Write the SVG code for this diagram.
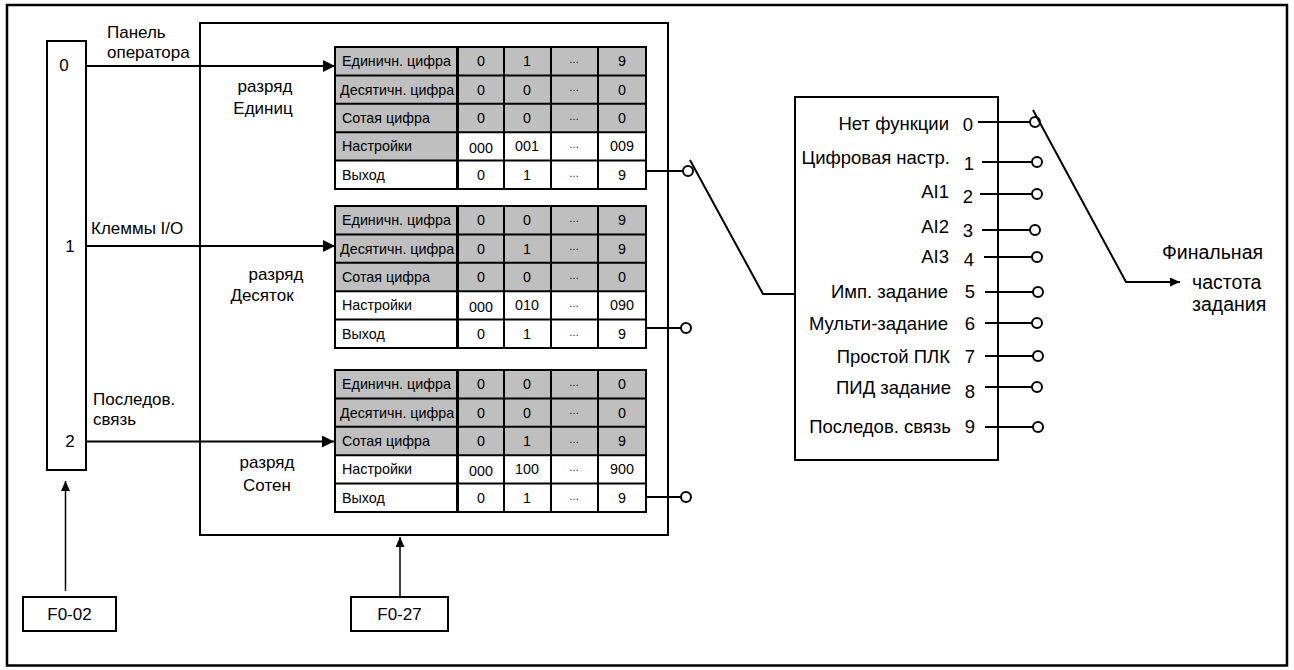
<svg xmlns="http://www.w3.org/2000/svg" width="1294" height="670" viewBox="0 0 1294 670">
<defs>
<style>
text{font-family:"Liberation Sans",Arial,sans-serif;fill:#000}
.lbl{font-size:17px}
.rl{font-size:18.5px}
.big{font-size:19.5px}
.tb{font-size:14.3px}
.dots{font-size:10px;fill:#333}
.box{fill:#fff;stroke:#000;stroke-width:2}
.ln{fill:none;stroke:#000;stroke-width:2}
.thin{fill:none;stroke:#000;stroke-width:1.5}
.gray{fill:#bfbfbf}
.grid{fill:none;stroke:#000;stroke-width:2}
.term{fill:#fff;stroke:#000;stroke-width:2}
.c{text-anchor:middle}
.e{text-anchor:end}
</style>
<marker id="arrL" markerUnits="userSpaceOnUse" markerWidth="13" markerHeight="12" refX="12" refY="6" orient="auto"><path d="M0,0 L12,6 L0,12 z" fill="#000"/></marker>
<marker id="arrS" markerUnits="userSpaceOnUse" markerWidth="11" markerHeight="9" refX="10" refY="4.5" orient="auto"><path d="M0,0 L10,4.5 L0,9 z" fill="#000"/></marker>
</defs>
<rect x="0" y="0" width="1294" height="670" fill="#fff"/>
<rect id="frame" x="7" y="5" width="1280" height="660.5" fill="none" stroke="#000" stroke-width="2.5"/>

<g id="selector">
<rect class="box" x="47" y="41" width="39" height="429"/>
<text class="lbl c" x="64" y="71">0</text>
<text class="lbl c" x="70" y="252">1</text>
<text class="lbl c" x="70" y="447">2</text>
</g>

<g id="digitbox">
<rect class="box" x="200" y="23" width="468" height="512"/>
<text class="lbl c" x="265" y="92">разряд</text>
<text class="lbl c" x="263" y="114">Единиц</text>
<text class="lbl c" x="276" y="280">разряд</text>
<text class="lbl c" x="262" y="301">Десяток</text>
<text class="lbl c" x="267" y="468">разряд</text>
<text class="lbl c" x="267" y="491">Сотен</text>
</g>

<g id="table1" transform="translate(0,47)">
<rect class="gray" x="335" y="0" width="311" height="85.2"/>
<rect class="gray" x="335" y="85.2" width="122" height="28.4"/>
<rect class="grid" x="335" y="0" width="311" height="142"/>
<path class="grid" d="M335,28.4H646M335,56.8H646M335,85.2H646M335,113.6H646M504,0V142M551,0V142M598,0V142"/>
<path d="M457.5,0V142" stroke="#000" stroke-width="3"/>
<text class="tb" x="342" y="19.2">Единичн. цифра</text>
<text class="tb" x="340" y="47.6">Десятичн. цифра</text>
<text class="tb" x="342" y="76">Сотая цифра</text>
<text class="tb" x="342" y="104.4">Настройки</text>
<text class="tb" x="342" y="132.8">Выход</text>
<g class="tb c">
<text x="481" y="19.2">0</text><text x="527" y="19.2">1</text><text x="622" y="19.2">9</text>
<text x="481" y="47.6">0</text><text x="527" y="47.6">0</text><text x="622" y="47.6">0</text>
<text x="481" y="76">0</text><text x="527" y="76">0</text><text x="622" y="76">0</text>
<text x="481" y="106">000</text><text x="527" y="104.4">001</text><text x="622" y="104.4">009</text>
<text x="481" y="132.8">0</text><text x="527" y="132.8">1</text><text x="622" y="132.8">9</text>
</g>
<g class="dots c">
<text x="574" y="16">…</text><text x="574" y="44.4">…</text><text x="574" y="72.8">…</text><text x="574" y="101.2">…</text><text x="574" y="129.6">…</text>
</g>
</g>

<g id="table2" transform="translate(0,206)">
<rect class="gray" x="335" y="0" width="311" height="85.2"/>
<rect class="grid" x="335" y="0" width="311" height="142"/>
<path class="grid" d="M335,28.4H646M335,56.8H646M335,85.2H646M335,113.6H646M504,0V142M551,0V142M598,0V142"/>
<path d="M457.5,0V142" stroke="#000" stroke-width="3"/>
<text class="tb" x="342" y="19.2">Единичн. цифра</text>
<text class="tb" x="340" y="47.6">Десятичн. цифра</text>
<text class="tb" x="342" y="76">Сотая цифра</text>
<text class="tb" x="342" y="104.4">Настройки</text>
<text class="tb" x="342" y="132.8">Выход</text>
<g class="tb c">
<text x="481" y="19.2">0</text><text x="527" y="19.2">0</text><text x="622" y="19.2">9</text>
<text x="481" y="47.6">0</text><text x="527" y="47.6">1</text><text x="622" y="47.6">9</text>
<text x="481" y="76">0</text><text x="527" y="76">0</text><text x="622" y="76">0</text>
<text x="481" y="106">000</text><text x="527" y="104.4">010</text><text x="622" y="104.4">090</text>
<text x="481" y="132.8">0</text><text x="527" y="132.8">1</text><text x="622" y="132.8">9</text>
</g>
<g class="dots c">
<text x="574" y="16">…</text><text x="574" y="44.4">…</text><text x="574" y="72.8">…</text><text x="574" y="101.2">…</text><text x="574" y="129.6">…</text>
</g>
</g>

<g id="table3" transform="translate(0,370)">
<rect class="gray" x="335" y="0" width="311" height="85.2"/>
<rect class="grid" x="335" y="0" width="311" height="142"/>
<path class="grid" d="M335,28.4H646M335,56.8H646M335,85.2H646M335,113.6H646M504,0V142M551,0V142M598,0V142"/>
<path d="M457.5,0V142" stroke="#000" stroke-width="3"/>
<text class="tb" x="342" y="19.2">Единичн. цифра</text>
<text class="tb" x="340" y="47.6">Десятичн. цифра</text>
<text class="tb" x="342" y="76">Сотая цифра</text>
<text class="tb" x="342" y="104.4">Настройки</text>
<text class="tb" x="342" y="132.8">Выход</text>
<g class="tb c">
<text x="481" y="19.2">0</text><text x="527" y="19.2">0</text><text x="622" y="19.2">0</text>
<text x="481" y="47.6">0</text><text x="527" y="47.6">0</text><text x="622" y="47.6">0</text>
<text x="481" y="76">0</text><text x="527" y="76">1</text><text x="622" y="76">9</text>
<text x="481" y="106">000</text><text x="527" y="104.4">100</text><text x="622" y="104.4">900</text>
<text x="481" y="132.8">0</text><text x="527" y="132.8">1</text><text x="622" y="132.8">9</text>
</g>
<g class="dots c">
<text x="574" y="16">…</text><text x="574" y="44.4">…</text><text x="574" y="72.8">…</text><text x="574" y="101.2">…</text><text x="574" y="129.6">…</text>
</g>
</g>

<g id="sourcebox">
<rect class="box" x="795" y="97" width="203" height="363"/>
<g class="rl e">
<text x="949" y="130">Нет функции</text>
<text x="950" y="164">Цифровая настр.</text>
<text x="949" y="198">AI1</text>
<text x="949" y="233">AI2</text>
<text x="949" y="263">AI3</text>
<text x="948" y="298">Имп. задание</text>
<text x="948" y="330">Мульти-задание</text>
<text x="950" y="363">Простой ПЛК</text>
<text x="951" y="394">ПИД задание</text>
<text x="951" y="433">Последов. связь</text>
</g>
<g class="rl c">
<text x="968" y="131">0</text>
<text x="969" y="170">1</text>
<text x="968" y="203">2</text>
<text x="968" y="237">3</text>
<text x="969" y="266">4</text>
<text x="970" y="298">5</text>
<text x="970" y="330">6</text>
<text x="970" y="363">7</text>
<text x="970" y="398">8</text>
<text x="970" y="433">9</text>
</g>
</g>

<g id="f002">
<rect class="box" x="23" y="597" width="93" height="34"/>
<text class="lbl c" x="69.5" y="620">F0-02</text>
</g>
<g id="f027">
<rect class="box" x="351" y="597" width="97" height="34"/>
<text class="lbl c" x="399.5" y="620">F0-27</text>
</g>

<g id="output-label">
<text class="big" x="1162" y="259">Финальная</text>
<text class="big" x="1192" y="289">частота</text>
<text class="big" x="1192" y="311">задания</text>
</g>

<g id="connectors">
<line class="ln" x1="86" y1="66" x2="335" y2="66" marker-end="url(#arrL)"/>
<line class="ln" x1="86" y1="246" x2="335" y2="246" marker-end="url(#arrL)"/>
<line class="ln" x1="86" y1="441.5" x2="334" y2="441.5" marker-end="url(#arrL)"/>
<line class="thin" x1="65.5" y1="591" x2="65.5" y2="481" marker-end="url(#arrS)"/>
<line class="thin" x1="400" y1="597" x2="400" y2="537" marker-end="url(#arrS)"/>
<line class="ln" x1="646" y1="171" x2="683" y2="171"/>
<line class="ln" x1="646" y1="328" x2="681" y2="328"/>
<line class="ln" x1="646" y1="497" x2="681" y2="497"/>
<circle class="term" cx="688" cy="171" r="5"/>
<circle class="term" cx="686" cy="328" r="5"/>
<circle class="term" cx="686" cy="497" r="5"/>
<polyline class="ln" points="690,160 763,294 795,294"/>
<path class="ln" d="M978,122H1030M982,162H1032M980,194H1032M982,230H1030M984,257H1032M985,292H1033M985,323H1032M985,356H1033M985,387H1032M985,427H1033"/>
<circle class="term" cx="1035" cy="122" r="5"/>
<circle class="term" cx="1037" cy="162" r="5"/>
<circle class="term" cx="1037" cy="194" r="5"/>
<circle class="term" cx="1035" cy="230" r="5"/>
<circle class="term" cx="1037" cy="257" r="5"/>
<circle class="term" cx="1038" cy="292" r="5"/>
<circle class="term" cx="1037" cy="323" r="5"/>
<circle class="term" cx="1038" cy="356" r="5"/>
<circle class="term" cx="1037" cy="387" r="5"/>
<circle class="term" cx="1038" cy="427" r="5"/>
<polyline class="ln" points="1033,110 1126,282 1180,282" marker-end="url(#arrS)"/>
</g>

<g id="input-labels">
<text class="lbl" x="107" y="38">Панель</text>
<text class="lbl" x="107" y="58">оператора</text>
<text class="lbl" x="91" y="234">Клеммы I/O</text>
<text class="lbl" x="93" y="405">Последов.</text>
<text class="lbl" x="93" y="425">связь</text>
</g>
</svg>
